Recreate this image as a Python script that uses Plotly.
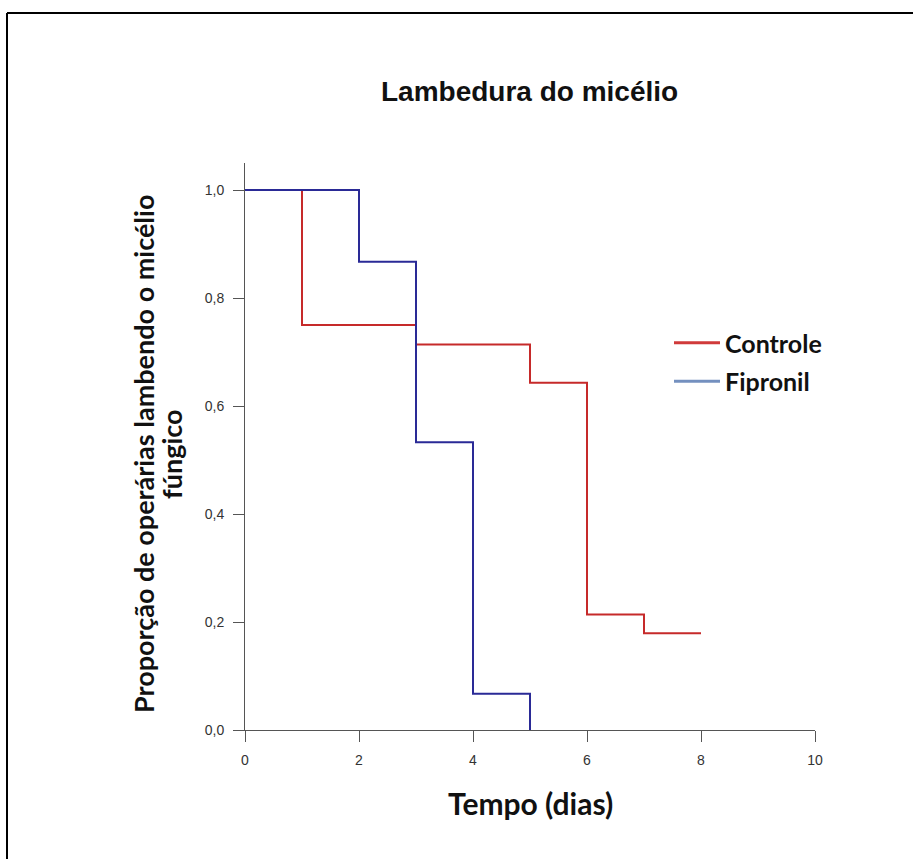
import plotly.graph_objects as go

# Kaplan-Meier style step data
controle_t = [0, 1, 3, 5, 6, 7, 8]
controle_p = [1.0, 0.75, 0.714, 0.643, 0.214, 0.179, 0.179]
fipronil_t = [0, 2, 3, 4, 5, 5]
fipronil_p = [1.0, 0.867, 0.533, 0.067, 0.0, 0.0]

x_ticks = [0, 2, 4, 6, 8, 10]
y_ticks = [0.0, 0.2, 0.4, 0.6, 0.8, 1.0]

series_names = ["Controle", "Fipronil"]
line_colors = ["#c62a2a", "#2a2a96"]
legend_colors = ["#d03a3a", "#7490bf"]

W, H = 913, 859
L, R, T, B = 245, 98, 163, 129

fig = go.Figure()
fig.add_trace(go.Scatter(x=controle_t, y=controle_p, mode="lines",
                         line=dict(shape="hv", color=line_colors[0], width=2),
                         showlegend=False, hoverinfo="skip"))
fig.add_trace(go.Scatter(x=fipronil_t, y=fipronil_p, mode="lines",
                         line=dict(shape="hv", color=line_colors[1], width=2),
                         showlegend=False, hoverinfo="skip"))
for name, col in zip(series_names, legend_colors):
    fig.add_trace(go.Scatter(x=[None], y=[None], mode="lines", name=name,
                             legendgroup=name,
                             line=dict(color=col, width=3)))

def px2paper_x(px):
    return (px - L) / (W - L - R)

def px2paper_y(py):
    return (H - B - py) / (H - T - B)

fig.update_layout(
    width=W, height=H,
    margin=dict(l=L, r=R, t=T, b=B, pad=0),
    paper_bgcolor="white", plot_bgcolor="white",
    separators=", ",
    showlegend=True,
    legend=dict(x=px2paper_x(669), y=px2paper_y(320), xanchor="left", yanchor="top",
                font=dict(family="Lato", size=25, color="#111111", weight="bold"),
                bgcolor="rgba(0,0,0,0)", tracegroupgap=3, itemwidth=46),
    xaxis=dict(range=[0, 10], tickvals=x_ticks, ticktext=[str(v) for v in x_ticks],
               showgrid=False, zeroline=False, showline=True, linecolor="#555555",
               linewidth=1, ticks="outside", ticklen=11, tickcolor="#555555",
               ticklabelstandoff=6,
               tickfont=dict(family="Arial", size=14, color="#333333")),
    yaxis=dict(range=[0, 1.05], tickvals=y_ticks, tickformat=".1f",
               showgrid=False, zeroline=False, showline=True, linecolor="#555555",
               linewidth=1, ticks="outside", ticklen=11, tickcolor="#555555",
               ticklabelstandoff=6,
               tickfont=dict(family="Arial", size=14, color="#333333")),
    annotations=[
        dict(text="<b>Lambedura do micélio</b>", xref="paper", yref="paper",
             x=px2paper_x(529), y=px2paper_y(91), xanchor="center", yanchor="middle",
             showarrow=False, font=dict(family="Arial", size=28, color="#111111")),
        dict(text="<b>Tempo (dias)</b>", xref="paper", yref="paper",
             x=px2paper_x(530), y=px2paper_y(803), xanchor="center", yanchor="middle",
             showarrow=False, font=dict(family="Lato", size=30, color="#111111")),
        dict(text="<b>Proporção de operárias lambendo o micélio</b>", xref="paper", yref="paper",
             x=px2paper_x(143), y=px2paper_y(454), xanchor="center", yanchor="middle",
             textangle=-90, showarrow=False,
             font=dict(family="Lato", size=27, color="#111111")),
        dict(text="<b>fúngico</b>", xref="paper", yref="paper",
             x=px2paper_x(171), y=px2paper_y(454), xanchor="center", yanchor="middle",
             textangle=-90, showarrow=False,
             font=dict(family="Lato", size=27, color="#111111")),
    ],
    shapes=[
        dict(type="line", xref="paper", yref="paper", x0=px2paper_x(7), x1=px2paper_x(920),
             y0=px2paper_y(13), y1=px2paper_y(13), line=dict(color="black", width=2)),
        dict(type="line", xref="paper", yref="paper", x0=px2paper_x(7), x1=px2paper_x(7),
             y0=px2paper_y(13), y1=px2paper_y(870), line=dict(color="black", width=2)),
    ],
)

fig.write_html("out.html", config={"displayModeBar": False},
               post_script="document.body.style.margin='0';")
